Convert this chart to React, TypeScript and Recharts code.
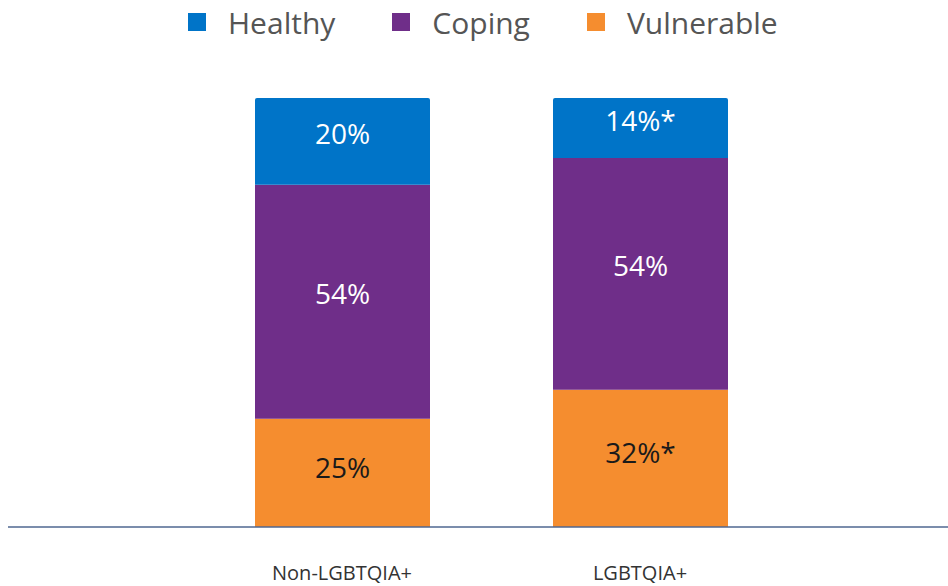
import React from "react";
import { BarChart, Bar, XAxis, YAxis, LabelList } from "recharts";

const categories = ["Non-LGBTQIA+", "LGBTQIA+"];
const healthy = [20, 14];
const coping = [54, 54];
const vulnerable = [25, 32];
const healthyLabels = ["20%", "14%*"];
const copingLabels = ["54%", "54%"];
const vulnerableLabels = ["25%", "32%*"];

const seriesNames = ["Healthy", "Coping", "Vulnerable"];
const colors = ["#0074C8", "#6F2E89", "#F58D2F"];

const data = categories.map((c, i) => ({
  name: c,
  healthy: healthy[i],
  coping: coping[i],
  vulnerable: vulnerable[i],
  hl: healthyLabels[i],
  cl: copingLabels[i],
  vl: vulnerableLabels[i],
}));

const FONT = "'Open Sans', sans-serif";

const labelStyle = (fill: string) => ({
  fill,
  fontSize: 28,
  fontFamily: FONT,
});

export default function App() {
  return (
    <div style={{ position: "absolute", left: 0, top: 0, width: 948, height: 586, background: "#fff" }}>
      <div
        style={{
          position: "absolute",
          left: 188,
          top: 1,
          display: "flex",
          alignItems: "center",
          fontFamily: FONT,
          fontSize: 30,
          color: "#555555",
          height: 42,
        }}
      >
        {seriesNames.map((n, i) => (
          <div key={n} style={{ display: "flex", alignItems: "center", marginRight: i < 2 ? 57 : 0 }}>
            <div style={{ width: 18, height: 18, background: colors[i], marginRight: 22 }} />
            <span>{n}</span>
          </div>
        ))}
      </div>
      <BarChart
        width={948}
        height={586}
        data={data}
        stackOffset="expand"
        margin={{ top: 98, right: 0, left: 8, bottom: 0 }}
      >
        <XAxis
          dataKey="name"
          height={59}
          padding={{ left: 185, right: 159 }}
          tickLine={false}
          tickMargin={33}
          axisLine={{ stroke: "#4F6790", strokeWidth: 1.5 }}
          tick={{ fill: "#333333", fontSize: 20, fontFamily: FONT }}
          interval={0}
        />
        <YAxis hide domain={[0, 1]} />
        <Bar dataKey="vulnerable" stackId="a" fill={colors[2]} barSize={175} isAnimationActive={false}>
          <LabelList dataKey="vl" position="center" dy={-5} style={labelStyle("#1a1a1a")} />
        </Bar>
        <Bar dataKey="coping" stackId="a" fill={colors[1]} barSize={175} isAnimationActive={false}>
          <LabelList dataKey="cl" position="center" dy={-8} style={labelStyle("#ffffff")} />
        </Bar>
        <Bar dataKey="healthy" stackId="a" fill={colors[0]} barSize={175} radius={[2, 2, 0, 0]} isAnimationActive={false}>
          <LabelList dataKey="hl" position="center" dy={-7} style={labelStyle("#ffffff")} />
        </Bar>
      </BarChart>
    </div>
  );
}
